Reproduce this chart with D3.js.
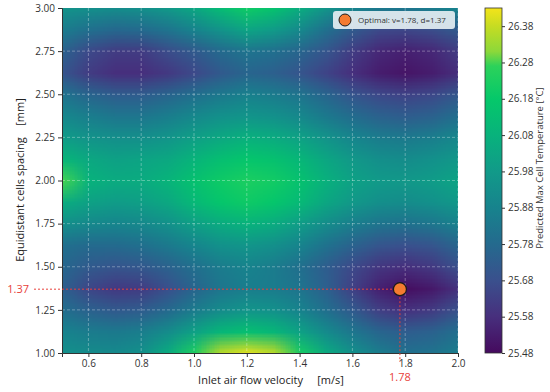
<!DOCTYPE html>
<html>
<head>
<meta charset="utf-8">
<script src="https://cdn.jsdelivr.net/npm/d3@7"></script>
<style>
body { margin: 0; background: #fff; }
text { font-family: "Open Sans", sans-serif; }
</style>
</head>
<body>
<svg width="550" height="392"></svg>
<script>
// grid columns (inlet velocity, m/s) and rows (cell spacing, mm), top row first
var velocity = [0.5, 0.6, 0.7, 0.8, 0.9, 1.0, 1.1, 1.2, 1.3, 1.4, 1.5, 1.6, 1.7, 1.8, 1.9, 2.0];
var spacing = [3.0, 2.875, 2.75, 2.625, 2.5, 2.375, 2.25, 2.125, 2.0, 1.875, 1.75, 1.625, 1.5, 1.375, 1.25, 1.125, 1.0];

// predicted max cell temperature, one row per spacing value
var temperature = [
  [25.95,25.93,25.92,25.93,25.97,26.03,26.12,26.20,26.15,26.05,25.95,25.88,25.84,25.83,25.85,25.88],
  [25.85,25.80,25.77,25.78,25.82,25.88,25.95,26.02,25.98,25.90,25.80,25.72,25.66,25.65,25.67,25.72],
  [25.75,25.66,25.62,25.62,25.67,25.72,25.78,25.82,25.80,25.76,25.70,25.62,25.56,25.54,25.56,25.62],
  [25.70,25.62,25.58,25.58,25.61,25.66,25.72,25.76,25.74,25.70,25.64,25.58,25.53,25.51,25.53,25.58],
  [25.82,25.76,25.73,25.73,25.76,25.80,25.84,25.87,25.85,25.82,25.76,25.70,25.66,25.64,25.66,25.71],
  [25.90,25.86,25.83,25.83,25.86,25.90,25.94,25.96,25.94,25.90,25.84,25.79,25.75,25.73,25.75,25.80],
  [25.99,25.95,25.93,25.93,25.96,26.00,26.04,26.07,26.05,26.01,25.95,25.89,25.85,25.84,25.86,25.90],
  [26.10,26.04,26.01,26.02,26.04,26.09,26.14,26.17,26.15,26.10,26.03,25.97,25.93,25.92,25.94,25.97],
  [26.28,26.08,26.05,26.05,26.09,26.15,26.20,26.23,26.21,26.15,26.07,26.01,25.98,25.97,25.99,26.02],
  [26.06,26.01,25.99,26.00,26.04,26.11,26.17,26.20,26.17,26.11,26.03,25.97,25.93,25.92,25.94,25.97],
  [25.93,25.90,25.89,25.90,25.94,26.00,26.05,26.08,26.05,25.99,25.92,25.86,25.82,25.81,25.83,25.87],
  [25.80,25.78,25.78,25.80,25.84,25.89,25.94,25.96,25.93,25.88,25.81,25.75,25.70,25.68,25.70,25.76],
  [25.77,25.72,25.70,25.71,25.75,25.80,25.85,25.88,25.85,25.80,25.73,25.66,25.60,25.58,25.61,25.68],
  [25.74,25.65,25.61,25.62,25.68,25.76,25.83,25.86,25.85,25.82,25.74,25.63,25.54,25.49,25.52,25.59],
  [25.80,25.75,25.72,25.73,25.78,25.85,25.92,25.96,25.94,25.88,25.80,25.72,25.63,25.59,25.62,25.69],
  [25.88,25.85,25.84,25.86,25.92,26.01,26.10,26.14,26.10,26.01,25.91,25.83,25.76,25.73,25.75,25.80],
  [25.94,25.92,25.91,25.94,26.06,26.24,26.37,26.42,26.37,26.22,26.05,25.94,25.86,25.81,25.82,25.86]
];

var xTicks = [0.6, 0.8, 1.0, 1.2, 1.4, 1.6, 1.8, 2.0];
var yTicks = [1.00, 1.25, 1.50, 1.75, 2.00, 2.25, 2.50, 2.75, 3.00];
var cbTicks = [25.48, 25.58, 25.68, 25.78, 25.88, 25.98, 26.08, 26.18, 26.28, 26.38];
var optimalV = 1.78, optimalD = 1.37;

// colour map stops as seen on the colour bar
var cbStops = [25.48, 25.58, 25.68, 25.78, 25.88, 25.98, 26.08, 26.18, 26.27, 26.31, 26.38, 26.43];
var cbColors = ["#450a5e","#472f7d","#3a508d","#246a8e","#17838d","#119a89","#08b27c","#05c86a","#2cd25a","#8cd83a","#c6dc22","#f4e41a"];

var svg = d3.select("svg");
var plotLeft = 62, plotRight = 458, plotTop = 8, plotBottom = 353;

var x = d3.scaleLinear().domain([0.5, 2.0]).range([plotLeft, plotRight]);
var y = d3.scaleLinear().domain([1.0, 3.0]).range([plotBottom, plotTop]);
var color = d3.scaleLinear().domain(cbStops).range(cbColors).clamp(true);

// heat map: one pixel per grid value, smoothed when scaled up
var cols = velocity.length, rows = spacing.length;
var canvas = document.createElement("canvas");
canvas.width = cols; canvas.height = rows;
var ctx = canvas.getContext("2d");
var img = ctx.createImageData(cols, rows);
temperature.forEach(function(row, i) {
  row.forEach(function(v, j) {
    var c = d3.rgb(color(v)), k = (i * cols + j) * 4;
    img.data[k] = c.r; img.data[k + 1] = c.g; img.data[k + 2] = c.b; img.data[k + 3] = 255;
  });
});
ctx.putImageData(img, 0, 0);

var dx = velocity[1] - velocity[0], dy = spacing[0] - spacing[1];

svg.append("clipPath").attr("id", "plot-clip")
  .append("rect").attr("x", plotLeft).attr("y", plotTop)
  .attr("width", plotRight - plotLeft).attr("height", plotBottom - plotTop);

svg.append("g").attr("clip-path", "url(#plot-clip)")
  .append("image")
  .attr("href", canvas.toDataURL())
  .attr("preserveAspectRatio", "none")
  .attr("x", x(velocity[0] - dx / 2))
  .attr("y", y(spacing[0] + dy / 2))
  .attr("width", x(velocity[cols - 1] + dx / 2) - x(velocity[0] - dx / 2))
  .attr("height", y(spacing[rows - 1] - dy / 2) - y(spacing[0] + dy / 2));

// grid
var grid = svg.append("g").attr("class", "grid")
  .attr("stroke", "#ffffff").attr("stroke-opacity", 0.4)
  .attr("stroke-width", 0.8).attr("stroke-dasharray", "3,2");
grid.selectAll(".gx").data(xTicks).enter().append("line")
  .attr("x1", function(d){return x(d);}).attr("x2", function(d){return x(d);})
  .attr("y1", plotTop).attr("y2", plotBottom);
grid.selectAll(".gy").data(yTicks.slice(1, -1)).enter().append("line")
  .attr("x1", plotLeft).attr("x2", plotRight)
  .attr("y1", function(d){return y(d);}).attr("y2", function(d){return y(d);});

// axes
var xAxis = svg.append("g")
  .attr("transform", "translate(0," + plotBottom + ")")
  .call(d3.axisBottom(x).tickValues(xTicks).tickFormat(d3.format(".1f")).tickSizeOuter(0).tickSize(4));
var yAxis = svg.append("g")
  .attr("transform", "translate(" + plotLeft + ",0)")
  .call(d3.axisLeft(y).tickValues(yTicks).tickFormat(d3.format(".2f")).tickSizeOuter(0).tickSize(4));
[xAxis, yAxis].forEach(function(a) {
  a.select(".domain").attr("stroke", "#333");
  a.selectAll(".tick line").attr("stroke", "#333");
  a.selectAll(".tick text").attr("fill", "#333").style("font-size", "10px")
    .style("font-family", '"Open Sans", sans-serif');
});

svg.append("text")
  .attr("x", 271).attr("y", 384)
  .attr("text-anchor", "middle")
  .style("font-size", "11px").style("white-space", "pre").attr("fill", "#222")
  .text("Inlet air flow velocity     [m/s]");

svg.append("text")
  .attr("transform", "translate(24,180) rotate(-90)")
  .attr("text-anchor", "middle")
  .style("font-size", "11px").style("white-space", "pre").attr("fill", "#222")
  .text("Equidistant cells spacing    [mm]");

// optimum guide lines
var red = "#e8413a";
svg.append("line")
  .attr("x1", 34).attr("x2", x(optimalV))
  .attr("y1", y(optimalD)).attr("y2", y(optimalD))
  .attr("stroke", red).attr("stroke-width", 1).attr("stroke-dasharray", "2,2");
svg.append("line")
  .attr("x1", x(optimalV)).attr("x2", x(optimalV))
  .attr("y1", y(optimalD)).attr("y2", plotBottom + 9)
  .attr("stroke", red).attr("stroke-width", 1).attr("stroke-dasharray", "2,2");
svg.append("text")
  .attr("x", 29).attr("y", y(optimalD)).attr("dy", "0.35em")
  .attr("text-anchor", "end").attr("fill", red).style("font-size", "11px")
  .text(optimalD.toFixed(2));
svg.append("text")
  .attr("x", x(optimalV)).attr("y", 381)
  .attr("text-anchor", "middle").attr("fill", red).style("font-size", "11px")
  .text(optimalV.toFixed(2));

svg.append("circle")
  .attr("cx", x(optimalV)).attr("cy", y(optimalD)).attr("r", 6.5)
  .attr("fill", "#f47b30").attr("stroke", "#1a1a1a").attr("stroke-width", 1.2);

// legend
var legend = svg.append("g").attr("transform", "translate(333,11)");
legend.append("rect")
  .attr("width", 122).attr("height", 18).attr("rx", 3)
  .attr("fill", "#e4eef2").attr("fill-opacity", 0.92);
legend.append("circle")
  .attr("cx", 12).attr("cy", 9).attr("r", 6)
  .attr("fill", "#f47b30").attr("stroke", "#1a1a1a").attr("stroke-width", 1);
legend.append("text")
  .attr("x", 25).attr("y", 9).attr("dy", "0.35em")
  .attr("fill", "#333").style("font-size", "8px")
  .text("Optimal: v=" + optimalV + ", d=" + optimalD);

// colour bar
var cbLeft = 485, cbWidth = 17;
var cbScale = d3.scaleLinear().domain([25.48, 26.43]).range([plotBottom, plotTop]);
var grad = svg.append("defs").append("linearGradient")
  .attr("id", "cb-grad").attr("x1", 0).attr("x2", 0).attr("y1", 1).attr("y2", 0);
grad.selectAll("stop").data(cbStops).enter().append("stop")
  .attr("offset", function(d){return (d - 25.48) / (26.43 - 25.48);})
  .attr("stop-color", function(d, i){return cbColors[i];});
svg.append("rect")
  .attr("x", cbLeft).attr("y", plotTop)
  .attr("width", cbWidth).attr("height", plotBottom - plotTop)
  .attr("fill", "url(#cb-grad)").attr("stroke", "#333").attr("stroke-width", 0.8);
var cbAxis = svg.append("g")
  .attr("transform", "translate(" + (cbLeft + cbWidth) + ",0)")
  .call(d3.axisRight(cbScale).tickValues(cbTicks).tickFormat(d3.format(".2f")).tickSize(3));
cbAxis.select(".domain").remove();
cbAxis.selectAll(".tick line").attr("stroke", "#333");
cbAxis.selectAll(".tick text").attr("fill", "#333").style("font-size", "10px")
  .style("font-family", '"Open Sans", sans-serif');

svg.append("text")
  .attr("transform", "translate(543,168) rotate(-90)")
  .attr("text-anchor", "middle").attr("fill", "#333").style("font-size", "9.5px")
  .text("Predicted Max Cell Temperature [°C]");
</script>
</body>
</html>
